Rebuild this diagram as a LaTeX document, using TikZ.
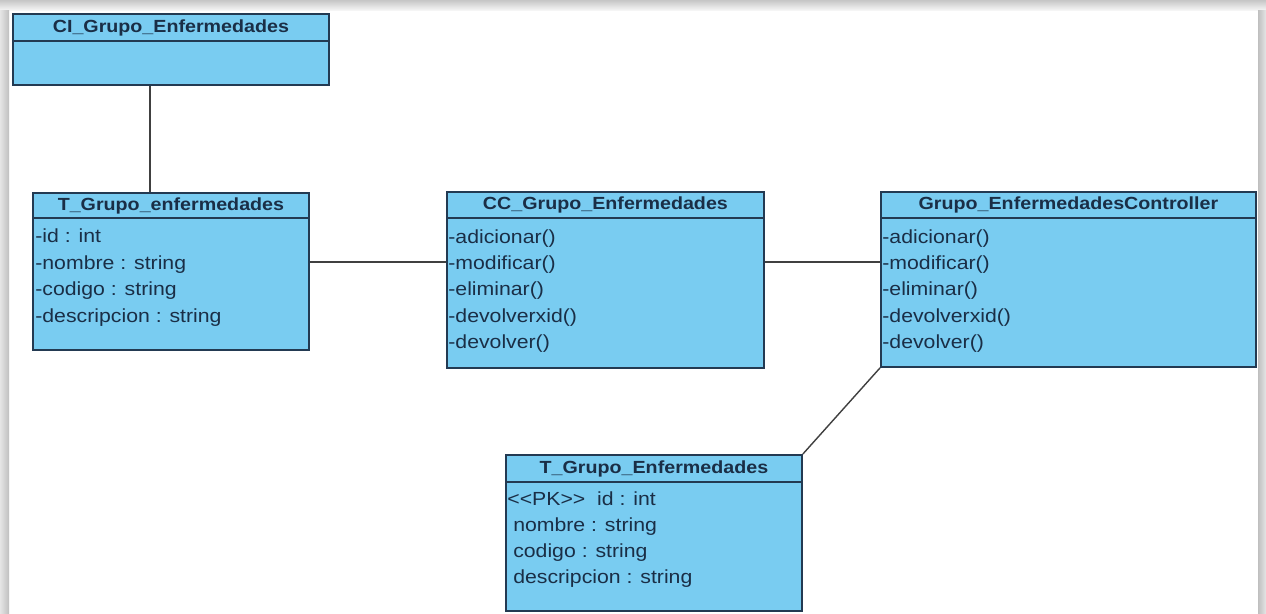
\documentclass[tikz,border=0pt]{standalone}
\usepackage{fontspec}
\setmainfont{Liberation Sans}[FakeStretch=1.12]
\definecolor{celeste}{RGB}{121,204,241}
\definecolor{borde}{RGB}{35,58,82}
\definecolor{letra}{RGB}{26,46,70}
\tikzset{
  clase/.style={draw=borde, fill=celeste, line width=1.1pt, inner sep=0pt, anchor=north west},
  cabecera/.style={clase, font=\bfseries, text=letra},
  campo/.style={text=letra, anchor=base west, inner sep=0pt},
  enlace/.style={draw=black!75, line width=0.8pt}
}

\begin{document}
\begin{tikzpicture}[x=0.02cm, y=-0.02cm, font=\fontsize{10.8pt}{13pt}\selectfont]
      \useasboundingbox (0,0) rectangle (1266,613);
      \fill[white] (0,0) rectangle (1266,613);
      \shade[top color=gray!45, bottom color=gray!8] (0,0) rectangle (1266,10);
      \shade[left color=gray!20, right color=gray!50] (0,10) rectangle (9,613);
      \shade[left color=gray!50, right color=gray!20] (1258,10) rectangle (1266,613);

      \node[clase, minimum width=6.32cm, minimum height=1.42cm] (ci) at (12,13) {};
      \node[cabecera, minimum width=6.32cm, minimum height=0.54cm] (ci-t) at (ci.north west) {CI\_Grupo\_Enfermedades};

      \node[clase, minimum width=5.52cm, minimum height=3.14cm] (tabla) at (32,192) {};
      \node[cabecera, minimum width=5.52cm, minimum height=0.5cm] (tabla-t) at (tabla.north west) {T\_Grupo\_enfermedades};
      \node[campo] (tabla-1) at (35,242) {-id : int};
      \node[campo] (tabla-2) at (35,269) {-nombre : string};
      \node[campo] (tabla-3) at (35,295) {-codigo : string};
      \node[campo] (tabla-4) at (35,322) {-descripcion : string};

      \node[clase, minimum width=6.34cm, minimum height=3.52cm] (cc) at (446,191) {};
      \node[cabecera, minimum width=6.34cm, minimum height=0.52cm] (cc-t) at (cc.north west) {CC\_Grupo\_Enfermedades};
      \node[campo] (cc-1) at (448,243) {-adicionar()};
      \node[campo] (cc-2) at (448,269) {-modificar()};
      \node[campo] (cc-3) at (448,295) {-eliminar()};
      \node[campo] (cc-4) at (448,322) {-devolverxid()};
      \node[campo] (cc-5) at (448,348) {-devolver()};

      \node[clase, minimum width=7.5cm, minimum height=3.5cm] (ctrl) at (880,191) {};
      \node[cabecera, minimum width=7.5cm, minimum height=0.52cm] (ctrl-t) at (ctrl.north west) {Grupo\_EnfermedadesController};
      \node[campo] (ctrl-1) at (882,243) {-adicionar()};
      \node[campo] (ctrl-2) at (882,269) {-modificar()};
      \node[campo] (ctrl-3) at (882,295) {-eliminar()};
      \node[campo] (ctrl-4) at (882,322) {-devolverxid()};
      \node[campo] (ctrl-5) at (882,348) {-devolver()};

      \node[clase, minimum width=5.92cm, minimum height=3.12cm] (bd) at (505,454) {};
      \node[cabecera, minimum width=5.92cm, minimum height=0.54cm] (bd-t) at (bd.north west) {T\_Grupo\_Enfermedades};
      \node[campo] (bd-1) at (507,505) {{<}{<}PK{>}{>}\ \ id : int};
      \node[campo] (bd-2) at (507,531) {\ nombre : string};
      \node[campo] (bd-3) at (507,557) {\ codigo : string};
      \node[campo] (bd-4) at (507,583) {\ descripcion : string};

      \coordinate (v) at (150,0);
      \coordinate (h) at (0,262);
      \draw[enlace] (ci.south -| v) -- (tabla.north -| v);
      \draw[enlace] (tabla.east |- h) -- (cc.west |- h);
      \draw[enlace] (cc.east |- h) -- (ctrl.west |- h);
      \draw[enlace] (ctrl.south west) -- (bd.north east);
    \end{tikzpicture}
\end{document}
